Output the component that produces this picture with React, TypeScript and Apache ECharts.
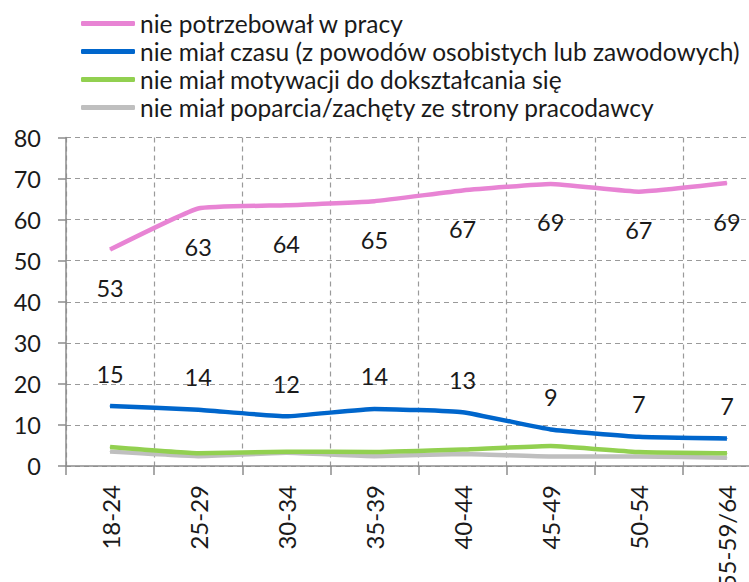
import React, { useEffect, useRef } from "react";
import * as echarts from "echarts";

const categories = ["18-24", "25-29", "30-34", "35-39", "40-44", "45-49", "50-54", "55-59/64"];
const seriesNames = [
  "nie potrzebował w pracy",
  "nie miał czasu (z powodów osobistych lub zawodowych)",
  "nie miał motywacji do dokształcania się",
  "nie miał poparcia/zachęty ze strony pracodawcy",
];
const notNeeded = [52.7, 62.7, 63.5, 64.5, 67.1, 68.7, 66.8, 68.9];
const noTime = [14.6, 13.7, 12.1, 13.9, 13.1, 8.9, 7.1, 6.7];
const noMotivation = [4.6, 3.1, 3.5, 3.4, 4.0, 4.9, 3.4, 3.1];
const noSupport = [3.5, 2.4, 3.2, 2.4, 2.9, 2.3, 2.3, 2.0];
const yTicks = { min: 0, max: 80, interval: 10 };

const colors = ["#E884D4", "#0066CC", "#92D050", "#BFBFBF"];
const FONT = "Lato";

export default function App() {
  const ref = useRef<HTMLDivElement>(null);
  useEffect(() => {
    if (!ref.current) return;
    const chart = echarts.init(ref.current, null, { renderer: "svg" });
    const labelStyle = (pos: "top" | "bottom", dist: number) => ({
      show: true,
      position: pos,
      distance: dist,
      fontFamily: FONT,
      fontSize: 23.5,
      color: "#1a1a1a",
      formatter: (p: any) => String(Math.round(p.value)),
    });
    const lineSeries = (name: string, data: number[], color: string, label: any, z: number) => ({
      name,
      type: "line",
      data,
      smooth: 0.12,
      symbol: "circle",
      symbolSize: 1,
      showSymbol: true,
      z,
      lineStyle: { color, width: 4.5 },
      itemStyle: { color },
      label,
      emphasis: { disabled: true },
    });
    chart.setOption({
      animation: false,
      color: colors,
      legend: {
        orient: "vertical",
        left: 76,
        top: 6,
        itemWidth: 54,
        itemHeight: 5,
        itemGap: 3,
        icon: "roundRect",
        textStyle: { fontFamily: FONT, fontSize: 24.5, color: "#1a1a1a", lineHeight: 22 },
        data: seriesNames,
        selectedMode: false,
      },
      grid: { left: 66, top: 137.5, bottom: 116, right: -22, outerBoundsMode: "none", containLabel: false },
      xAxis: {
        type: "category",
        data: categories,
        boundaryGap: true,
        axisLine: { show: true, lineStyle: { color: "#8c8c8c", width: 1.5 } },
        axisTick: { show: true, length: 9, lineStyle: { color: "#8c8c8c", width: 1.5 } },
        axisLabel: { rotate: 90, margin: 19, fontFamily: FONT, fontSize: 24, color: "#1a1a1a", interval: 0 },
        splitLine: { show: true, interval: 0, lineStyle: { color: "#9a9a9a", type: [5, 4], width: 1.2 } },
      },
      yAxis: {
        type: "value",
        min: yTicks.min,
        max: yTicks.max,
        interval: yTicks.interval,
        axisLine: { show: true, lineStyle: { color: "#8c8c8c", width: 1.5 } },
        axisTick: { show: true, length: 8, lineStyle: { color: "#8c8c8c", width: 1.5 } },
        axisLabel: { margin: 25, fontFamily: FONT, fontSize: 23.5, color: "#1a1a1a" },
        splitLine: { show: true, lineStyle: { color: "#9a9a9a", type: [5, 4], width: 1.2 } },
      },
      series: [
        lineSeries(seriesNames[0], notNeeded, colors[0], labelStyle("bottom", 26), 4),
        lineSeries(seriesNames[1], noTime, colors[1], labelStyle("top", 20), 3),
        lineSeries(seriesNames[2], noMotivation, colors[2], { show: false }, 2),
        lineSeries(seriesNames[3], noSupport, colors[3], { show: false }, 1),
      ],
    });
    return () => chart.dispose();
  }, []);
  return (
    <div
      ref={ref}
      style={{ position: "fixed", left: 0, top: 0, width: 749, height: 582, background: "#fff", overflow: "hidden" }}
    />
  );
}
